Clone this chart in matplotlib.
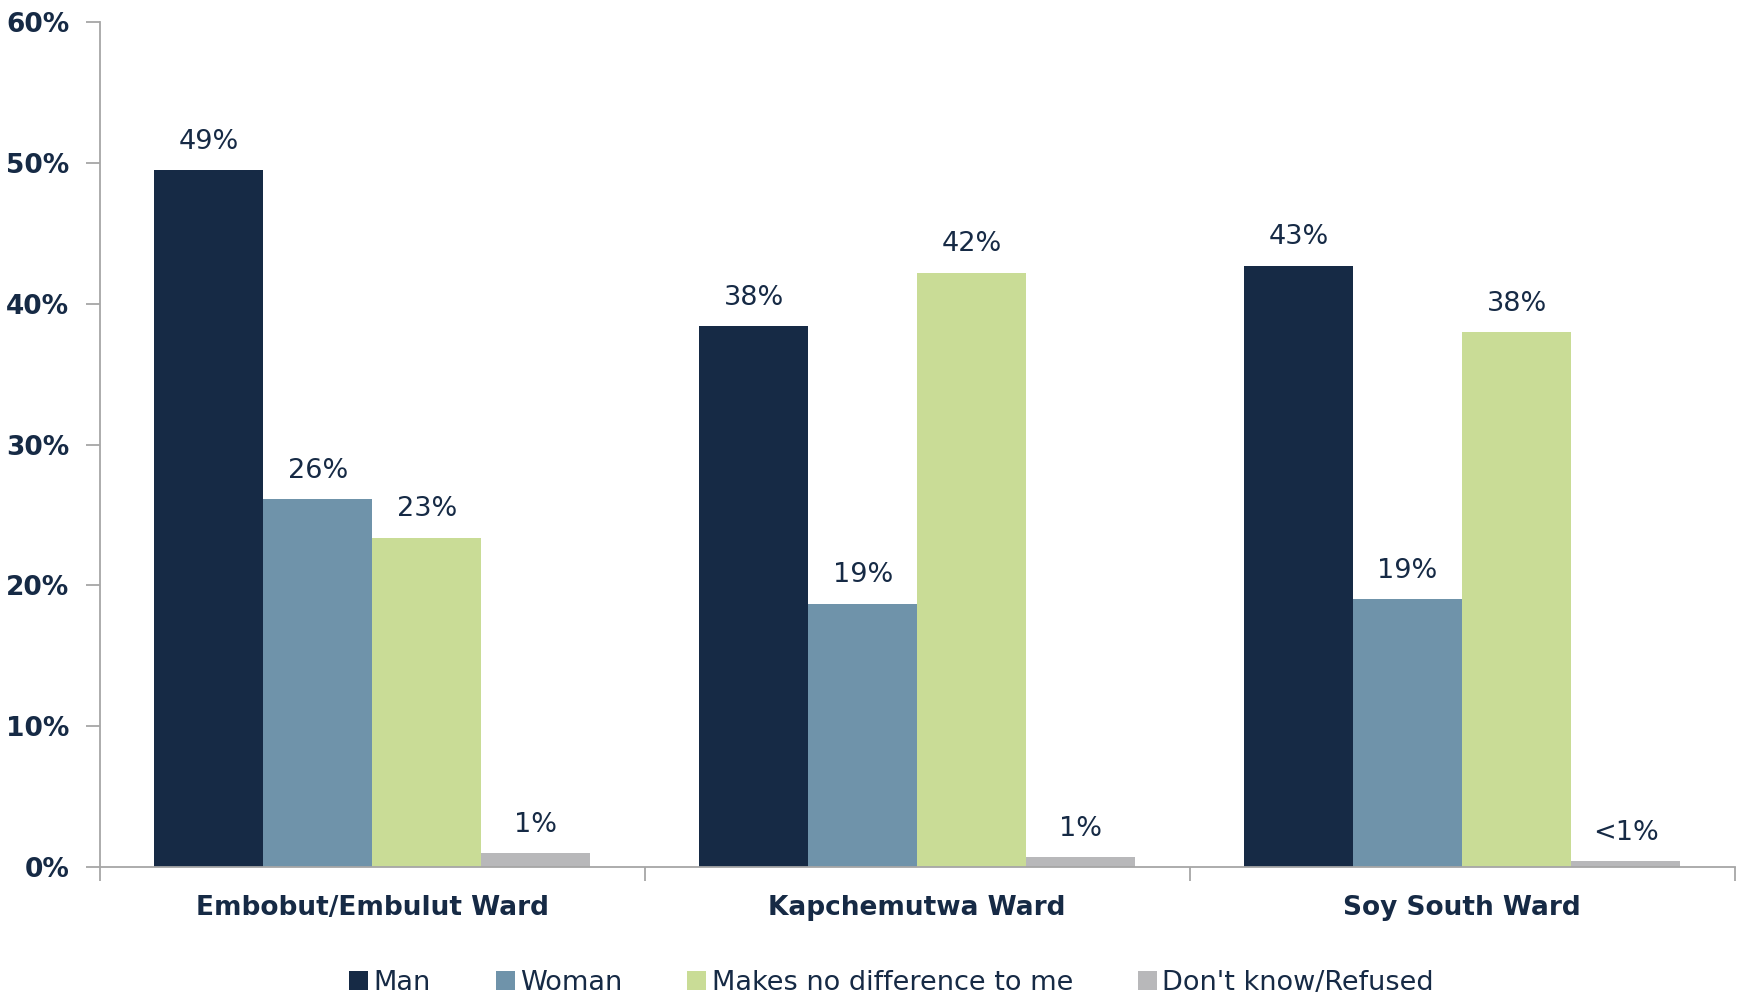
import matplotlib.pyplot as plt
import numpy as np

# data
wards = ["Embobut/Embulut Ward", "Kapchemutwa Ward", "Soy South Ward"]
series = ["Man", "Woman", "Makes no difference to me", "Don't know/Refused"]
man = [49.5, 38.4, 42.7]
woman = [26.1, 18.7, 19.0]
no_diff = [23.4, 42.2, 38.0]
dont_know = [1.0, 0.7, 0.4]
man_lbl = ["49%", "38%", "43%"]
woman_lbl = ["26%", "19%", "19%"]
no_diff_lbl = ["23%", "42%", "38%"]
dont_know_lbl = ["1%", "1%", "<1%"]

colors = ["#162A45", "#6F93AA", "#C9DC96", "#B8B8BA"]
navy = "#162A45"
plt.rcParams['font.family'] = ['DejaVu Sans']

fig = plt.figure(figsize=(17.38, 9.99), dpi=100)
ax = fig.add_axes([0.0575, 0.132, 0.9405, 0.846])

x = np.arange(len(wards))
w = 0.2
vals = [man, woman, no_diff, dont_know]
lbls = [man_lbl, woman_lbl, no_diff_lbl, dont_know_lbl]
for i in range(4):
    pos = x + (i - 1.5) * w
    bars = ax.bar(pos, vals[i], width=w, color=colors[i], label=series[i])
    for b, t in zip(bars, lbls[i]):
        ax.annotate(t, (b.get_x() + b.get_width() / 2, b.get_height()),
                    xytext=(0, 11), textcoords="offset points",
                    ha="center", va="bottom", fontsize=19.5, color=navy)

ax.set_xlim(-0.5, 2.5)
ax.set_ylim(0, 60)
ax.set_yticks(range(0, 61, 10))
ax.set_yticklabels([f"{v}%" for v in range(0, 61, 10)],
                   fontsize=19, fontweight="bold", color=navy)
ax.set_xticks([-0.5, 0.5, 1.5, 2.5])
ax.set_xticklabels([])
ax.set_xticks(x, minor=True)
ax.set_xticklabels(wards, minor=True, fontsize=19, fontweight="bold", color=navy)
ax.tick_params(axis="x", which="minor", length=0, pad=20)
ax.tick_params(axis="x", which="major", length=10, color="#A6A6A6", width=1.3)
ax.tick_params(axis="y", length=10, color="#A6A6A6", width=1.3, pad=12)

for s in ["top", "right"]:
    ax.spines[s].set_visible(False)
for s in ["left", "bottom"]:
    ax.spines[s].set_color("#A6A6A6")
    ax.spines[s].set_linewidth(1.3)

leg = fig.legend(loc="center", bbox_to_anchor=(0.513, 0.016), ncol=4, frameon=False,
                 fontsize=19.5, handlelength=0.7, handleheight=0.7, handletextpad=0.2,
                 columnspacing=2.4)
for t in leg.get_texts():
    t.set_color(navy)

fig.savefig("out.png", dpi=100)
